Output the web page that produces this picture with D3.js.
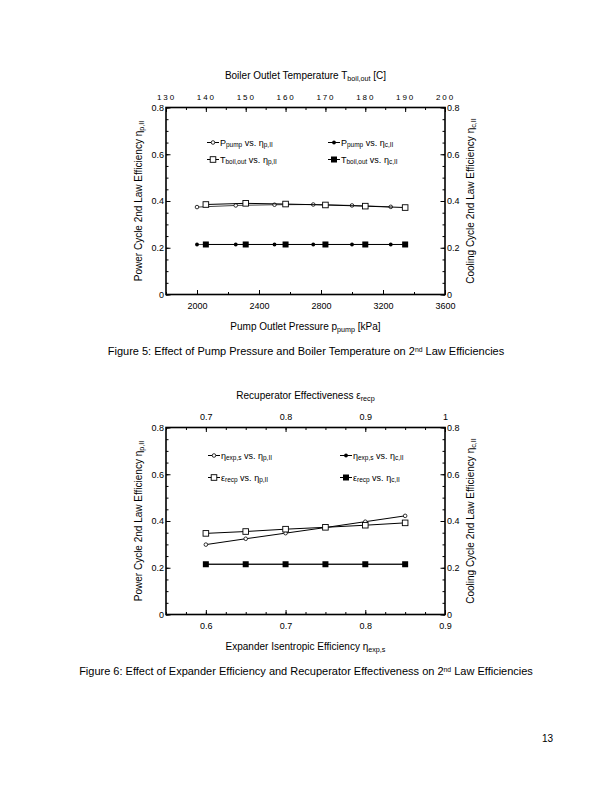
<!DOCTYPE html>
<meta charset="utf-8">
<title>Figures 5 and 6</title>
<style>
body { margin: 0; background: #fff; }
svg { font-family: "Liberation Sans", Arial, sans-serif; }
svg text, svg tspan { fill: #000; }
.tick text { font-size: 9px; fill: #000; }
.tick line { stroke: #000; }
.box { fill: none; stroke: #000; stroke-width: 1.6px; }
.ser { fill: none; stroke-width: 1px; }
</style>
<body>
<svg width="612" height="792"></svg>
<script src="https://d3js.org/d3.v7.min.js"></script>
<script>

// figure 5 data
var pumpP = [2000, 2250, 2500, 2750, 3000, 3250];
var etaP_pump = [0.374, 0.381, 0.384, 0.385, 0.381, 0.375];
var etaC_pump = [0.214, 0.214, 0.214, 0.214, 0.214, 0.214];
var boilT = [140, 150, 160, 170, 180, 190];
var etaP_boil = [0.385, 0.390, 0.387, 0.383, 0.378, 0.372];
var etaC_boil = [0.214, 0.214, 0.214, 0.214, 0.214, 0.214];
var pumpTicks = [2000, 2400, 2800, 3200, 3600];
var boilTicks = [130, 140, 150, 160, 170, 180, 190, 200];

// figure 6 data
var expEff = [0.6, 0.65, 0.7, 0.75, 0.8, 0.85];
var etaP_exp = [0.299, 0.324, 0.348, 0.372, 0.397, 0.422];
var etaC_exp = [0.215, 0.215, 0.215, 0.215, 0.215, 0.215];
var recpEff = [0.7, 0.75, 0.8, 0.85, 0.9, 0.95];
var etaP_recp = [0.347, 0.355, 0.365, 0.373, 0.382, 0.392];
var etaC_recp = [0.215, 0.215, 0.215, 0.215, 0.215, 0.215];
var expTicks = [0.6, 0.7, 0.8, 0.9];
var recpTicks = [0.7, 0.8, 0.9, 1];

var effTicks = [0, 0.2, 0.4, 0.6, 0.8];

var svg = d3.select("svg");

// text with subscript / superscript pieces: [text, "sub"|"sup"|null]
function rich(sel, parts, size) {
  parts.forEach(function(p) {
    var t = sel.append("tspan").attr("fill", "#000").text(p[0]);
    if (p[1] == "sub") t.attr("font-size", size * 0.72).attr("baseline-shift", "-22%");
    if (p[1] == "sup") t.attr("font-size", size * 0.62).attr("baseline-shift", "45%");
  });
}

function minor(lo, hi, step) {
  var out = [];
  for (var v = lo; v <= hi + step / 10; v += step) out.push(+v.toFixed(4));
  return out;
}

function drawChart(o) {
  var g = svg.append("g");
  var L = 166, R = 445, T = o.top, B = o.top + 187;

  var x = d3.scaleLinear().domain(o.xDom).range([L, R]);
  var x2 = d3.scaleLinear().domain(o.x2Dom).range([L, R]);
  var y = d3.scaleLinear().domain([0, 0.8]).range([B, T]);

  // minor ticks
  g.append("g").attr("transform", "translate(0," + B + ")")
    .call(d3.axisBottom(x).tickValues(minor(o.xDom[0], o.xDom[1], o.xMinor)).tickSize(-2.5).tickFormat(""));
  g.append("g").attr("transform", "translate(0," + T + ")")
    .call(d3.axisTop(x2).tickValues(minor(o.x2Dom[0], o.x2Dom[1], o.x2Minor)).tickSize(-2.5).tickFormat(""));
  g.append("g").attr("transform", "translate(" + L + ",0)")
    .call(d3.axisLeft(y).tickValues(minor(0, 0.8, 0.05)).tickSize(-2.5).tickFormat(""));
  g.append("g").attr("transform", "translate(" + R + ",0)")
    .call(d3.axisRight(y).tickValues(minor(0, 0.8, 0.05)).tickSize(-2.5).tickFormat(""));

  // major ticks with labels
  g.append("g").attr("transform", "translate(0," + B + ")")
    .call(d3.axisBottom(x).tickValues(o.xTicks).tickSize(-4.5).tickPadding(8).tickFormat(o.xFmt));
  var top = g.append("g").attr("transform", "translate(0," + T + ")")
    .call(d3.axisTop(x2).tickValues(o.x2Ticks).tickSize(-4.5).tickPadding(8).tickFormat(o.x2Fmt));
  if (o.spaced) top.selectAll("text").style("letter-spacing", "1.9px").style("font-size", "8px");
  g.append("g").attr("transform", "translate(" + L + ",0)")
    .call(d3.axisLeft(y).tickValues(effTicks).tickSize(-4.5).tickPadding(2).tickFormat(d3.format("")));
  g.append("g").attr("transform", "translate(" + R + ",0)")
    .call(d3.axisRight(y).tickValues(effTicks).tickSize(-4.5).tickPadding(2).tickFormat(d3.format("")));
  g.selectAll(".domain").remove();

  g.append("rect").attr("class", "box")
    .attr("x", L).attr("y", T).attr("width", R - L).attr("height", B - T);

  // series
  o.series.forEach(function(s) {
    var sx = s.top ? x2 : x;
    var pts = s.xs.map(function(v, i) { return [sx(v), y(s.ys[i])]; });
    g.append("path").attr("class", "ser").attr("stroke", s.stroke)
      .attr("d", d3.line()(pts));
    pts.forEach(function(p) { marker(g, s.mark, p[0], p[1]); });
  });

  // legend
  o.legend.forEach(function(d) {
    var lx = d.x, ly = T + d.dy;
    g.append("line").attr("x1", lx).attr("x2", lx + 12).attr("y1", ly).attr("y2", ly)
      .attr("stroke", "#000").attr("stroke-width", 1);
    marker(g, d.mark, lx + 6, ly);
    var t = g.append("text").attr("x", lx + 13).attr("y", ly + 3).attr("font-size", 9);
    rich(t, d.text, 9);
  });

  // titles
  var tt = g.append("text").attr("x", (L + R) / 2).attr("y", T - 29)
    .attr("text-anchor", "middle").attr("font-size", 10);
  rich(tt, o.topTitle, 10);
  var bt = g.append("text").attr("x", (L + R) / 2).attr("y", B + 35)
    .attr("text-anchor", "middle").attr("font-size", 10);
  rich(bt, o.botTitle, 10);
  var lt = g.append("text").attr("transform", "translate(142," + (T + B) / 2 + ") rotate(-90)")
    .attr("text-anchor", "middle").attr("font-size", 10);
  rich(lt, [["Power Cycle 2nd Law Efficiency "], ["\u03b7", null], ["p,II", "sub"]], 10);
  var rt = g.append("text").attr("transform", "translate(474," + (T + B) / 2 + ") rotate(-90)")
    .attr("text-anchor", "middle").attr("font-size", 10);
  rich(rt, [["Cooling Cycle 2nd Law Efficiency "], ["\u03b7", null], ["c,II", "sub"]], 10);

  var cap = g.append("text").attr("x", 306).attr("y", B + 60)
    .attr("text-anchor", "middle").attr("font-size", 11);
  rich(cap, o.caption, 11);
}

function marker(g, m, cx, cy) {
  if (m == "oc") g.append("circle").attr("cx", cx).attr("cy", cy).attr("r", 1.8)
    .attr("fill", "#fff").attr("stroke", "#000").attr("stroke-width", 0.8);
  if (m == "fc") g.append("circle").attr("cx", cx).attr("cy", cy).attr("r", 1.9).attr("fill", "#000");
  if (m == "os") g.append("rect").attr("x", cx - 2.8).attr("y", cy - 2.8).attr("width", 5.6).attr("height", 5.6)
    .attr("fill", "#fff").attr("stroke", "#000").attr("stroke-width", 0.9);
  if (m == "fs") g.append("rect").attr("x", cx - 3).attr("y", cy - 3).attr("width", 6).attr("height", 6)
    .attr("fill", "#000");
}

var eP = [["\u03b7"], ["p,II", "sub"]], eC = [["\u03b7"], ["c,II", "sub"]];

drawChart({
  top: 107.5,
  xDom: [1800, 3600], xTicks: pumpTicks, xMinor: 200, xFmt: d3.format(""),
  x2Dom: [130, 200], x2Ticks: boilTicks, x2Minor: 5, x2Fmt: d3.format(""), spaced: true,
  series: [
    { xs: pumpP, ys: etaP_pump, mark: "oc", stroke: "#444" },
    { xs: boilT, ys: etaP_boil, mark: "os", stroke: "#000", top: true },
    { xs: pumpP, ys: etaC_pump, mark: "fc", stroke: "#444" },
    { xs: boilT, ys: etaC_boil, mark: "fs", stroke: "#000", top: true }
  ],
  legend: [
    { x: 207, dy: 35, mark: "oc", text: [["P"], ["pump", "sub"], [" vs. "]].concat(eP) },
    { x: 328, dy: 35, mark: "fc", text: [["P"], ["pump", "sub"], [" vs. "]].concat(eC) },
    { x: 207, dy: 52, mark: "os", text: [["T"], ["boil,out", "sub"], [" vs. "]].concat(eP) },
    { x: 328, dy: 52, mark: "fs", text: [["T"], ["boil,out", "sub"], [" vs. "]].concat(eC) }
  ],
  topTitle: [["Boiler Outlet Temperature T"], ["boil,out", "sub"], [" [C]"]],
  botTitle: [["Pump Outlet Pressure p"], ["pump", "sub"], [" [kPa]"]],
  caption: [["Figure 5: Effect of Pump Pressure and Boiler Temperature on 2"], ["nd", "sup"], [" Law Efficiencies"]]
});

drawChart({
  top: 427.5,
  xDom: [0.55, 0.9], xTicks: expTicks, xMinor: 0.025, xFmt: d3.format(""),
  x2Dom: [0.65, 1.0], x2Ticks: recpTicks, x2Minor: 0.025, x2Fmt: d3.format(""), spaced: false,
  series: [
    { xs: expEff, ys: etaP_exp, mark: "oc", stroke: "#000" },
    { xs: recpEff, ys: etaP_recp, mark: "os", stroke: "#000", top: true },
    { xs: expEff, ys: etaC_exp, mark: "fc", stroke: "#444" },
    { xs: recpEff, ys: etaC_recp, mark: "fs", stroke: "#000", top: true }
  ],
  legend: [
    { x: 208, dy: 28, mark: "oc", text: [["\u03b7"], ["exp,s", "sub"], [" vs. "]].concat(eP) },
    { x: 340, dy: 28, mark: "fc", text: [["\u03b7"], ["exp,s", "sub"], [" vs. "]].concat(eC) },
    { x: 208, dy: 50, mark: "os", text: [["\u03b5"], ["recp", "sub"], [" vs. "]].concat(eP) },
    { x: 340, dy: 50, mark: "fs", text: [["\u03b5"], ["recp", "sub"], [" vs. "]].concat(eC) }
  ],
  topTitle: [["Recuperator Effectiveness "], ["\u03b5"], ["recp", "sub"]],
  botTitle: [["Expander Isentropic Efficiency "], ["\u03b7"], ["exp,s", "sub"]],
  caption: [["Figure 6: Effect of Expander Efficiency and Recuperator Effectiveness on 2"], ["nd", "sup"], [" Law Efficiencies"]]
});

svg.append("text").attr("x", 553).attr("y", 742).attr("text-anchor", "end")
  .attr("font-size", 10).text("13");

</script>
</body>
